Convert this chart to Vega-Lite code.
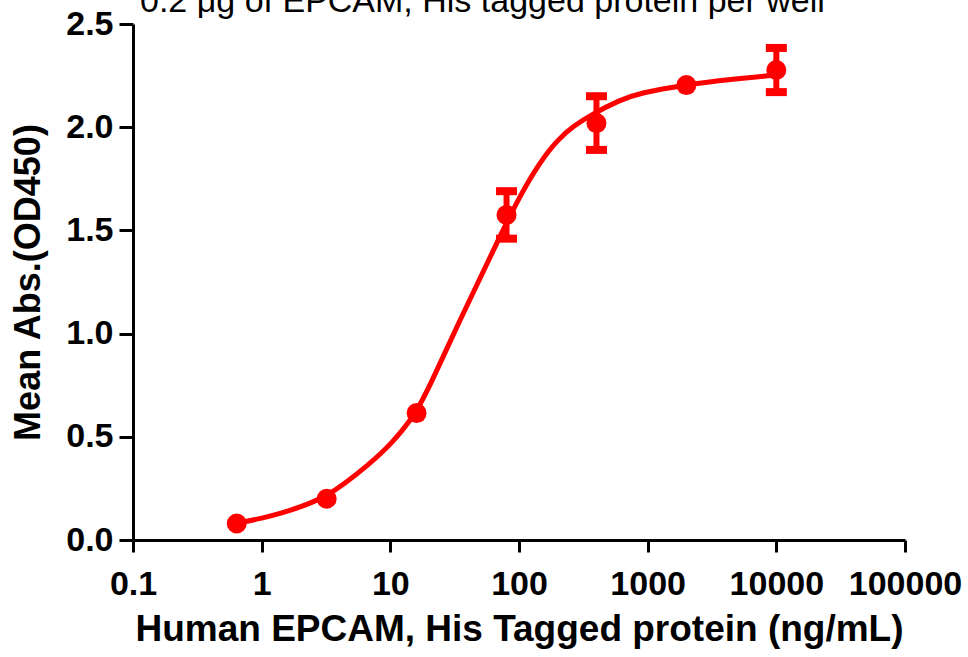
{
  "$schema": "https://vega.github.io/schema/vega-lite/v6.json",
  "width": 772,
  "height": 516,
  "autosize": "none",
  "padding": {"left": 133, "top": 24, "right": 63, "bottom": 117},
  "background": "white",
  "title": {
    "text": "0.2 μg of EPCAM, His tagged protein per well",
    "font": "Liberation Sans",
    "fontSize": 34,
    "fontWeight": "normal",
    "color": "black",
    "anchor": "start",
    "frame": "group",
    "dx": 7,
    "offset": -12
  },
  "config": {
    "view": {"stroke": null},
    "axis": {
      "grid": false,
      "domainColor": "black",
      "domainWidth": 3,
      "tickColor": "black",
      "tickWidth": 3,
      "labelColor": "black",
      "labelFont": "Liberation Sans",
      "labelFontWeight": "bold",
      "titleColor": "black",
      "titleFont": "Liberation Sans",
      "titleFontWeight": "bold"
    }
  },
  "datasets": {
    "curve": [
      {"conc": 0.64, "od": 0.082},
      {"conc": 1.0, "od": 0.104},
      {"conc": 1.56, "od": 0.137},
      {"conc": 3.2, "od": 0.202},
      {"conc": 6.94, "od": 0.37},
      {"conc": 10, "od": 0.46},
      {"conc": 16, "od": 0.614},
      {"conc": 21.4, "od": 0.78},
      {"conc": 34.8, "od": 1.066},
      {"conc": 50, "od": 1.27},
      {"conc": 71, "od": 1.47},
      {"conc": 100, "od": 1.66},
      {"conc": 145, "od": 1.83},
      {"conc": 200, "od": 1.94},
      {"conc": 264, "od": 2.005},
      {"conc": 375, "od": 2.065},
      {"conc": 600, "od": 2.13},
      {"conc": 869, "od": 2.166},
      {"conc": 2000, "od": 2.206},
      {"conc": 4120, "od": 2.23},
      {"conc": 10000, "od": 2.253}
    ],
    "points": [
      {"conc": 0.64, "od": 0.08, "lo": null, "hi": null},
      {"conc": 3.2, "od": 0.20, "lo": null, "hi": null},
      {"conc": 16, "od": 0.615, "lo": null, "hi": null},
      {"conc": 80, "od": 1.575, "lo": 1.46, "hi": 1.69},
      {"conc": 400, "od": 2.02, "lo": 1.89, "hi": 2.15},
      {"conc": 2000, "od": 2.204, "lo": null, "hi": null},
      {"conc": 10000, "od": 2.277, "lo": 2.17, "hi": 2.384}
    ]
  },
  "encoding": {
    "x": {
      "field": "conc",
      "type": "quantitative",
      "scale": {"type": "log", "domain": [0.1, 100000], "nice": false},
      "axis": {
        "values": [0.1, 1, 10, 100, 1000, 10000, 100000],
        "format": "~g",
        "title": "Human EPCAM, His Tagged protein (ng/mL)",
        "labelFontSize": 34,
        "tickSize": 12,
        "labelPadding": 15,
        "labelFlush": false,
        "labelOverlap": false,
        "titleFontSize": 37,
        "titlePadding": 10
      }
    },
    "y": {
      "field": "od",
      "type": "quantitative",
      "scale": {"domain": [0, 2.5], "nice": false, "zero": true},
      "axis": {
        "values": [0, 0.5, 1, 1.5, 2, 2.5],
        "format": ".1f",
        "title": "Mean Abs.(OD450)",
        "labelFontSize": 34,
        "tickSize": 14,
        "labelPadding": 6,
        "labelFlush": false,
        "labelOverlap": false,
        "titleFontSize": 36,
        "titlePadding": 18
      }
    }
  },
  "layer": [
    {
      "data": {"name": "curve"},
      "mark": {"type": "line", "color": "#FF0000", "strokeWidth": 5, "interpolate": "basis"}
    },
    {
      "data": {"name": "points"},
      "mark": {"type": "rule", "color": "#FF0000", "strokeWidth": 6},
      "encoding": {
        "y": {"field": "lo", "type": "quantitative"},
        "y2": {"field": "hi"}
      }
    },
    {
      "data": {"name": "points"},
      "mark": {"type": "tick", "orient": "horizontal", "color": "#FF0000", "size": 21, "thickness": 8, "opacity": 1},
      "encoding": {"y": {"field": "lo", "type": "quantitative"}}
    },
    {
      "data": {"name": "points"},
      "mark": {"type": "tick", "orient": "horizontal", "color": "#FF0000", "size": 21, "thickness": 8, "opacity": 1},
      "encoding": {"y": {"field": "hi", "type": "quantitative"}}
    },
    {
      "data": {"name": "points"},
      "mark": {"type": "point", "shape": "circle", "filled": true, "color": "#FF0000", "size": 400, "opacity": 1}
    }
  ]
}
